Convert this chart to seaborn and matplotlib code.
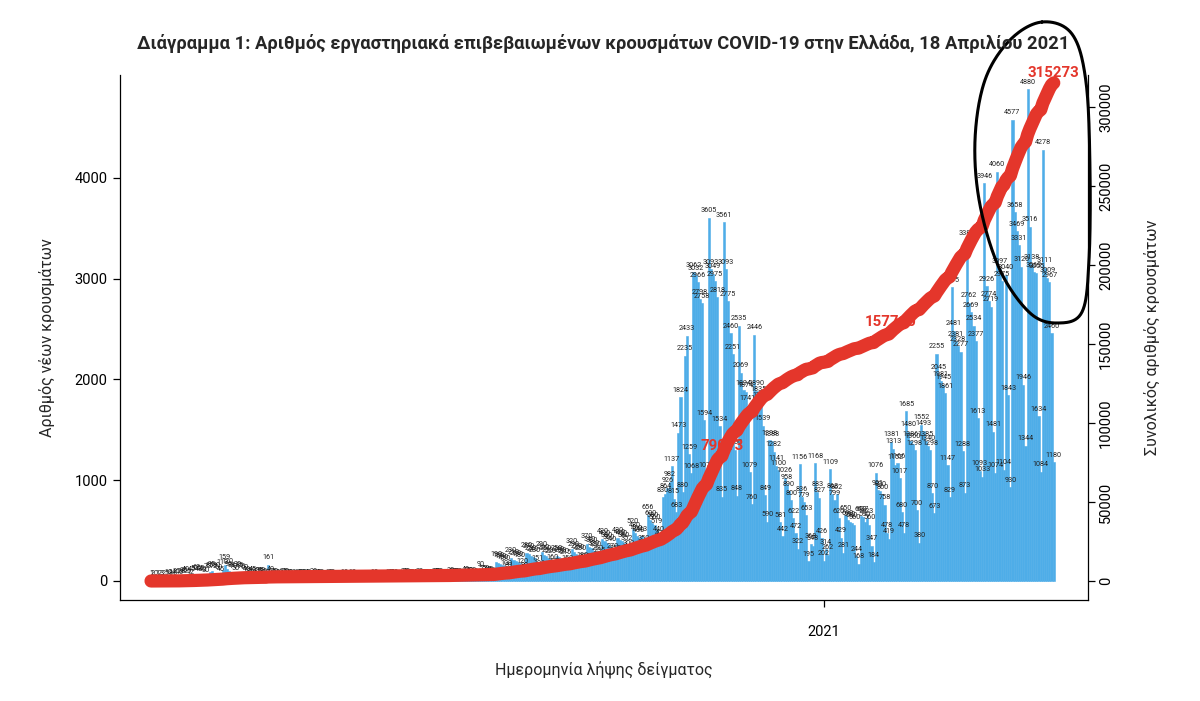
import numpy as np
import pandas as pd
import matplotlib
matplotlib.use('Agg')
import matplotlib.pyplot as plt
from matplotlib.lines import Line2D
import seaborn as sns

# daily new lab-confirmed cases by sample date
feb_2020 = [1, 2, 0, 1]
mar_2020 = [2, 3, 2, 5, 10, 8, 14, 6, 20, 15, 28, 35, 40, 25, 12, 45, 50, 62, 48, 55,
            40, 30, 70, 85, 95, 72, 80, 60, 45, 113, 159]
apr_2020 = [120, 95, 88, 70, 50, 90, 85, 70, 60, 40, 35, 20, 45, 30, 25, 35, 30, 20, 12,
            161, 40, 25, 20, 18, 10, 8, 25, 20, 15, 18]
may_2020 = [12, 8, 5, 15, 12, 10, 14, 10, 6, 4, 20, 14, 12, 10, 9, 5, 3, 12, 10, 9, 7,
            6, 4, 2, 10, 8, 6, 7, 12, 5, 3]
jun_2020 = [8, 6, 7, 5, 6, 3, 2, 10, 9, 8, 7, 6, 4, 3, 18, 12, 10, 9, 8, 5, 4, 25, 20,
            18, 16, 14, 8, 6, 22, 18]
jul_2020 = [16, 15, 14, 8, 5, 25, 22, 20, 18, 16, 10, 7, 30, 28, 25, 22, 20, 12, 9, 40,
            35, 32, 30, 28, 18, 12, 90, 55, 50, 48, 45]
aug_2020 = [30, 20, 190, 180, 170, 160, 150, 100, 80, 230, 210, 200, 190, 180, 120, 80,
            280, 270, 250, 240, 230, 151, 101, 290, 260, 250, 230, 220, 160, 120, 250]
sep_2020 = [240, 230, 220, 215, 150, 136, 320, 290, 270, 260, 250, 180, 173, 370, 340,
            330, 300, 290, 250, 235, 420, 400, 380, 360, 340, 270, 250, 430, 410, 400]
oct_2020 = [380, 352, 300, 260, 520, 480, 450, 430, 443, 350, 300, 656, 600, 580, 560,
            519, 440, 400, 830, 864, 926, 982, 1137, 815, 683, 1473, 1824, 880, 2235,
            2433, 1259]
nov_2020 = [1068, 3062, 3032, 2966, 2798, 2758, 1594, 1074, 3605, 3093, 3049, 2975, 2818,
            1534, 835, 3561, 3093, 2775, 2460, 2251, 1300, 848, 2535, 2069, 1894, 1874,
            1741, 1079, 760, 2446]
dec_2020 = [1890, 1835, 1770, 1539, 849, 590, 1398, 1388, 1282, 1141, 1100, 581, 442,
            1026, 958, 890, 800, 622, 472, 322, 1156, 836, 779, 653, 195, 368, 348, 1168,
            883, 827, 426]
jan_2021 = [202, 314, 262, 1109, 863, 799, 862, 620, 429, 281, 650, 600, 590, 580, 560,
            244, 168, 640, 637, 590, 623, 560, 347, 184, 1076, 901, 890, 860, 758, 478, 419]
feb_2021 = [1381, 1313, 1152, 1166, 1017, 680, 478, 1685, 1480, 1386, 1360, 1298, 700,
            380, 1552, 1493, 1385, 1340, 1298, 870, 673, 2255, 2045, 1981, 1945, 1861,
            1147, 829]
mar_2021 = [2915, 2481, 2381, 2328, 2277, 1288, 873, 3381, 2762, 2669, 2534, 2377, 1613,
            1093, 1033, 3946, 2926, 2774, 2719, 1481, 1074, 4060, 3097, 2975, 1104, 3040,
            1843, 930, 4577, 3658, 3469]
apr_2021 = [3331, 3120, 1946, 1344, 4880, 3516, 3138, 3063, 3055, 1634, 1084, 4278, 3111,
            3009, 2967, 2460, 1180]

first_day = '2020-02-26'
year_tick = '2021-01-01'

BLUE = '#4eade8'
RED = '#e4362b'

cases = (feb_2020 + mar_2020 + apr_2020 + may_2020 + jun_2020 + jul_2020 + aug_2020 +
         sep_2020 + oct_2020 + nov_2020 + dec_2020 + jan_2021 + feb_2021 + mar_2021 +
         apr_2021)
df = pd.DataFrame({'date': pd.date_range(first_day, periods=len(cases)), 'cases': cases})
df['day'] = np.arange(len(df))
df['total'] = df['cases'].cumsum()

sns.set_theme(style='ticks')
plt.rcParams['font.family'] = ['Roboto', 'DejaVu Sans']

fig = plt.figure(figsize=(12, 7.01), dpi=100)
ax = fig.add_axes([0.1, 0.1441, 0.8067, 0.7489])

sns.barplot(data=df, x='day', y='cases', color=BLUE, saturation=1, width=1.0,
            errorbar=None, native_scale=True, linewidth=0.4, edgecolor=BLUE, ax=ax)
for d, v in zip(df['day'], df['cases']):
    ax.text(d, v + 35, str(v), ha='center', va='bottom', fontsize=5.2, color='#222222')

ax.set_xlim(-14.3, 431.8)
ax.set_ylim(-189, 5022)
ax.set_yticks([0, 1000, 2000, 3000, 4000])
tick_day = int(df.loc[df['date'] == year_tick, 'day'].iloc[0])
ax.set_xticks([tick_day])
ax.set_xticklabels(['2021'])
ax.tick_params(axis='both', direction='out', length=5, width=0.9, labelsize=10.5,
               colors='black')
ax.tick_params(axis='x', pad=13)
ax.tick_params(axis='y', pad=4)
ax.set_xlabel('Ημερομηνία λήψης δείγματος', fontsize=11.5, labelpad=16)
ax.set_ylabel('Αριθμός νέων κρουσμάτων', fontsize=11.5, labelpad=14)
ax.spines['top'].set_visible(False)
ax.spines['right'].set_visible(False)
for s in ['left', 'bottom']:
    ax.spines[s].set_linewidth(0.9)
    ax.spines[s].set_color('black')

ax2 = ax.twinx()
sns.lineplot(data=df, x='day', y='total', color=RED, linewidth=9.5, ax=ax2, zorder=3)
ax2.lines[0].set_solid_capstyle('round')
ax2.set_ylim(-12025, 320253)
ax2.set_yticks(range(0, 300001, 50000))
ax2.tick_params(axis='y', direction='out', length=5, width=0.9, labelsize=10.5,
                labelrotation=90, pad=3, colors='black')
for lab in ax2.get_yticklabels():
    lab.set_va('center')
ax2.set_ylabel('Συνολικός αριθμός κρουσμάτων', fontsize=11.5, labelpad=22)
ax2.set_xlabel('')
for s in ['top', 'left', 'bottom']:
    ax2.spines[s].set_visible(False)
ax2.spines['right'].set_linewidth(0.9)
ax2.spines['right'].set_color('black')

# cumulative labels at a quarter, half and the end of the total
total = df['total'].iloc[-1]
marks = [int(np.argmax(df['total'] >= total / 4)),
         int(np.argmax(df['total'] >= total / 2)),
         len(df) - 1]
for i in marks:
    ax2.annotate(str(df['total'].iloc[i]), (df['day'].iloc[i], df['total'].iloc[i]),
                 xytext=(0, 7), textcoords='offset points', color=RED, fontsize=10.8,
                 fontweight='bold', ha='center', va='center', zorder=2)

fig.suptitle('Διάγραμμα 1: Αριθμός εργαστηριακά επιβεβαιωμένων κρουσμάτων COVID-19 '
             'στην Ελλάδα, 18 Απριλίου 2021', fontsize=13.2, fontweight='bold',
             x=0.503, y=0.952)


# hand drawn loop around the latest weeks
def closed_curve(pts, n=24):
    pts = np.asarray(pts, float)
    m = len(pts)
    t = np.linspace(0, 1, n, endpoint=False)[:, None]
    seg = []
    for i in range(m):
        p0, p1, p2, p3 = pts[i - 1], pts[i], pts[(i + 1) % m], pts[(i + 2) % m]
        seg.append(0.5 * (2 * p1 + (-p0 + p2) * t + (2 * p0 - 5 * p1 + 4 * p2 - p3) * t ** 2
                          + (-p0 + 3 * p1 - 3 * p2 + p3) * t ** 3))
    seg.append(pts[:1])
    return np.vstack(seg)


loop_px = [(1042, 22), (1072, 34), (1086, 82), (1090, 170), (1089, 260), (1082, 312),
           (1058, 323), (1030, 313), (1000, 270), (980, 205), (975, 140), (985, 80),
           (1010, 40)]
curve = closed_curve(loop_px)
fig.add_artist(Line2D(curve[:, 0] / 1200, 1 - curve[:, 1] / 701,
                      transform=fig.transFigure, color='black', lw=2.2))

fig.savefig('out.png', dpi=100)
